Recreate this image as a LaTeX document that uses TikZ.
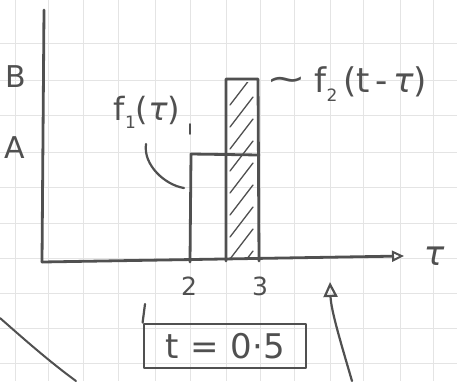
\documentclass[tikz,border=0pt]{standalone}
\usepackage{fontspec}
\setmainfont{DejaVu Sans}
\usetikzlibrary{arrows.meta}
\definecolor{ink}{RGB}{80,80,80}
\definecolor{gridc}{RGB}{228,228,228}
\newcommand{\subnum}[1]{\raisebox{-0.25em}{\fontsize{17}{17}\selectfont #1}}
\begin{document}
\begin{tikzpicture}[x=1pt,y=-1pt,
  pen/.style={draw=ink,line width=2.8pt,line cap=round,line join=round},
  thin pen/.style={draw=ink,line width=1.3pt,line cap=round},
  lbl/.style={text=ink,font=\fontsize{28}{30}\selectfont,inner sep=0pt},
  sheet/.style={draw=gridc,line width=0.8pt}]
\useasboundingbox (0,0) rectangle (457,381);
\fill[white] (0,0) rectangle (457,381);
% grid paper
\foreach \gx in {15,48,83,118,155,190,226,260,294,330,363,400,433}
  \draw[sheet] (\gx,0) -- (\gx,381);
\foreach \gy in {43,80,115,152,187,223,258,293,328,363}
  \draw[sheet] (0,\gy) -- (457,\gy);
% axes
\coordinate (o) at (42,262);
\coordinate (ytop) at (44,10);
\coordinate (xend) at (404,256);
\draw[pen] (o) -- (ytop);
\draw[pen,-{Triangle[open,length=12pt,width=11pt,line width=2pt]}] (o) -- (xend);
\node[lbl,font=\fontsize{34}{36}\selectfont\itshape] (tau) at (434,256) {τ};
\node[lbl,font=\fontsize{30}{32}\selectfont] (B) at (16,77) {B};
\node[lbl,font=\fontsize{30}{32}\selectfont] (A) at (15,148) {A};
\node[lbl,font=\fontsize{25}{27}\selectfont] (two) at (189,286) {2};
\node[lbl,font=\fontsize{25}{27}\selectfont] (three) at (260,286) {3};
% f1 rectangle
\coordinate (f1a) at (190,262);
\coordinate (f1b) at (191,154);
\coordinate (f1c) at (259,155);
\draw[pen] (f1a) -- (f1b) -- (f1c);
% f2 hatched rectangle
\coordinate (f2a) at (226,261);
\coordinate (f2b) at (226,79);
\coordinate (f2c) at (258,79);
\coordinate (f2d) at (259,261);
\begin{scope}
  \clip (229,82) rectangle (255,258);
  \foreach \k in {0,1,...,8}
    \draw[thin pen] (230,105+\k*22) -- (253,75+\k*22);
\end{scope}
\draw[pen] (f2a) -- (f2b) -- (f2c) -- (f2d);
% labels f1 and f2
\node[lbl,font=\fontsize{32}{34}\selectfont] (f1) at (147,112) {f\subnum{1}(\textit{τ})};
\draw[thin pen,line width=1.6pt] (190,124) -- (190,134);
\coordinate (c1) at (146,144);
\coordinate (c2) at (184,188);
\draw[pen,line width=2.2pt] (c1) .. controls (143,165) and (165,185) .. (c2);
\node[lbl,anchor=west,font=\fontsize{34}{36}\selectfont] (f2) at (266,84) {\raisebox{0.05em}{\scalebox{1.4}[1]{\textasciitilde}}\hspace{0.25em}f\subnum{2}\,(t\,-\,\textit{τ})};
% t = 0.5 box
\node[pen,lbl,minimum width=162pt,minimum height=44pt,inner sep=4pt,font=\fontsize{34}{36}\selectfont] (tbox) at (225,346) {t\hspace{0.35em}=\hspace{0.35em}0·5};
\coordinate (tk1) at (145,304);
\draw[pen,line width=2.2pt] (tk1) -- (tbox.north west);
% arrow from bottom
\coordinate (ar0) at (352,381);
\coordinate (ar1) at (330,282);
\draw[pen,line width=2.2pt,-{Triangle[open,length=15pt,width=14pt,line width=2.2pt]}] (ar0) .. controls (340,340) and (331,310) .. (ar1);
% big curve bottom-left
\coordinate (bc0) at (0,318);
\coordinate (bc1) at (76,381);
\draw[pen,line width=2pt] (bc0) .. controls (25,340) and (50,362) .. (bc1);
\end{tikzpicture}
\end{document}
